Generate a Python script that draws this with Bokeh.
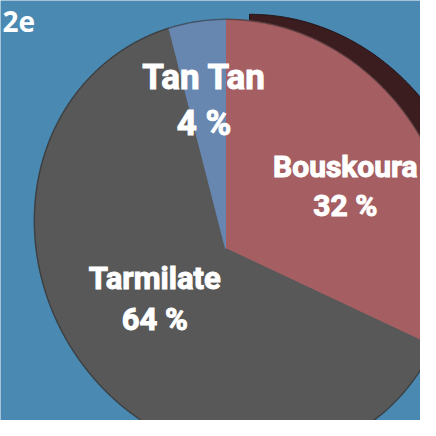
import numpy as np
from bokeh.plotting import figure
from bokeh.models import Range1d, ColumnDataSource
from bokeh.core.properties import value
from bokeh.embed import file_html
from bokeh.resources import INLINE

# ---------------- data ----------------
sites = ["Bouskoura", "Tarmilate", "Tan Tan"]
shares = [32, 64, 4]
share_labels = ["32 %", "64 %", "4 %"]
title_fragment = "2e"

# ---------------- style ----------------
slice_colors = ["#a55f63", "#585858", "#6787b0"]
bg_color = "#4a8ab2"
side_color = "#3b1d1f"
rim_color = "#262626"
label_sizes = [30, 31, 35]          # px
label_dist = [135, 87, 151]         # distance of label block from pie apex
label_turn_deg = [-5, -4, 1]        # small angular nudge of label block
text_lift = 11                      # compensation for baseline placement

# ---------------- layout (reference pixel space, y up) ----------------
H = 436
apex = np.array([225.0, H - 248.0])      # where the slices meet
ell_c = np.array([243.0, H - 238.0])     # centre of the (perspective) pie outline
ell_a, ell_b = 224.0, 204.0
ell_rot = np.deg2rad(120.0)
side_shift = np.array([24.0, 5.0])       # visible thickness of the raised slice

u_ax = np.array([np.cos(ell_rot), np.sin(ell_rot)])
v_ax = np.array([-np.sin(ell_rot), np.cos(ell_rot)])


def rim_point(theta):
    d = np.array([np.cos(theta), np.sin(theta)])
    p0 = apex - ell_c
    pu, pv = p0 @ u_ax, p0 @ v_ax
    du, dv = d @ u_ax, d @ v_ax
    A = (du / ell_a) ** 2 + (dv / ell_b) ** 2
    B = 2 * (pu * du / ell_a ** 2 + pv * dv / ell_b ** 2)
    C = (pu / ell_a) ** 2 + (pv / ell_b) ** 2 - 1
    t = (-B + np.sqrt(B * B - 4 * A * C)) / (2 * A)
    return apex + t * d


fr = np.array(shares, float) / sum(shares)
cum = np.concatenate([[0.0], np.cumsum(fr)])
start = np.pi / 2 - 2 * np.pi * cum[:-1]
end = np.pi / 2 - 2 * np.pi * cum[1:]

xs, ys, rim_x, rim_y = [], [], [], []
for s, e in zip(start, end):
    n = max(4, int(abs(s - e) / (2 * np.pi) * 720))
    th = np.linspace(s, e, n)
    pts = np.array([rim_point(t) for t in th])
    xs.append([apex[0]] + list(pts[:, 0]))
    ys.append([apex[1]] + list(pts[:, 1]))
    rim_x += list(pts[:, 0])
    rim_y += list(pts[:, 1])

src = ColumnDataSource(dict(xs=xs, ys=ys, color=slice_colors, site=sites))

p = figure(width=420, height=420, x_range=Range1d(0, 420), y_range=Range1d(H - 420, H),
           output_backend="svg", toolbar_location=None, min_border=0)
p.axis.visible = False
p.grid.visible = False
p.outline_line_color = None
p.background_fill_color = bg_color
p.border_fill_color = bg_color

# side / thickness of the highlighted slice
p.patches(xs=[list(np.array(xs[0]) + side_shift[0])], ys=[list(np.array(ys[0]) + side_shift[1])],
          fill_color=side_color, line_color="#241214", line_width=1)

# slices
p.patches(xs="xs", ys="ys", fill_color="color", line_color="color", line_width=1, source=src)
# rim
p.line(rim_x, rim_y, line_color=rim_color, line_alpha=0.5, line_width=1.5)

# labels
mid = (start + end) / 2 + np.deg2rad(label_turn_deg)
ax = apex[0] + np.array(label_dist) * np.cos(mid)
ay = apex[1] + np.array(label_dist) * np.sin(mid)
sz = np.array(label_sizes, float)
lab = ColumnDataSource(dict(
    x=ax, y1=ay + 0.31 * sz + text_lift, y2=ay - 1.02 * sz + text_lift,
    name=sites, pct=share_labels, size=[f"{s}px" for s in label_sizes]))
for col, ycol in (("name", "y1"), ("pct", "y2")):
    p.text(x="x", y=ycol, text=col, source=lab, text_font=value("Roboto"),
           text_font_style="bold", text_font_size="size", text_color="white",
           text_outline_color="white",
           text_align="center", text_baseline="alphabetic")

# fragment of the title in the top-left corner
p.text(x=[2], y=[H - 10], text=[title_fragment], text_font=value("Open Sans"),
       text_font_style="bold", text_font_size="28px", text_color="white",
       text_align="left", text_baseline="top")

open("out.html", "w").write(file_html(p, INLINE))
